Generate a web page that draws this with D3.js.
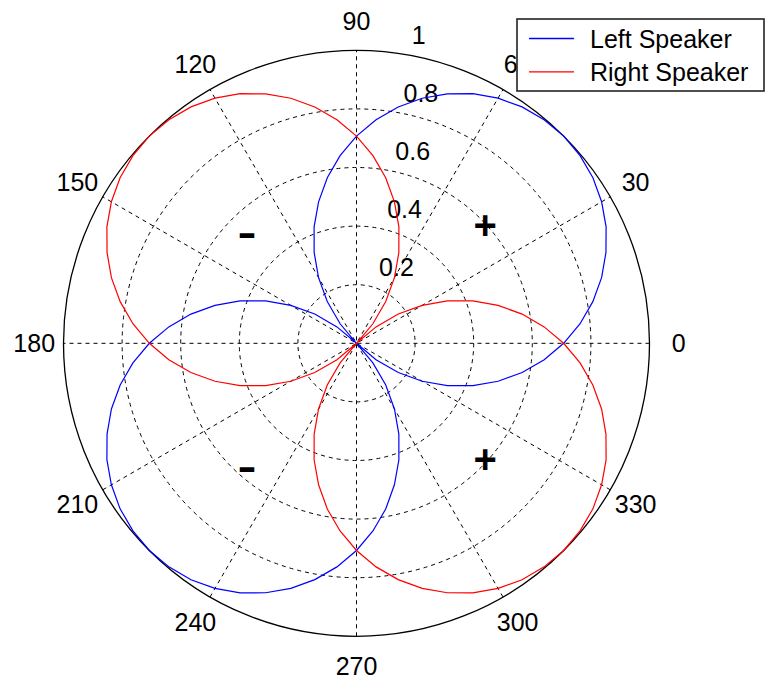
<!DOCTYPE html>
<html>
<head>
<meta charset="utf-8">
<script src="https://cdn.jsdelivr.net/npm/d3@7"></script>
<style>
  html, body { margin: 0; padding: 0; background: #fff; }
  svg { display: block; }
  text { font-family: "Liberation Sans", Arial, sans-serif; fill: #000; }
</style>
</head>
<body>
<svg id="chart" width="766" height="680"></svg>
<script>
// Polar directivity of two speakers, sampled every 5 degrees (0..355)
const angles = d3.range(0, 360, 5);
const leftSpeaker = [
  0.707, 0.766, 0.819, 0.866, 0.906, 0.940, 0.966, 0.985, 0.996, 1.000, 0.996, 0.985,
  0.966, 0.940, 0.906, 0.866, 0.819, 0.766, 0.707, 0.643, 0.574, 0.500, 0.423, 0.342,
  0.259, 0.174, 0.087, 0.000, 0.087, 0.174, 0.259, 0.342, 0.423, 0.500, 0.574, 0.643,
  0.707, 0.766, 0.819, 0.866, 0.906, 0.940, 0.966, 0.985, 0.996, 1.000, 0.996, 0.985,
  0.966, 0.940, 0.906, 0.866, 0.819, 0.766, 0.707, 0.643, 0.574, 0.500, 0.423, 0.342,
  0.259, 0.174, 0.087, 0.000, 0.087, 0.174, 0.259, 0.342, 0.423, 0.500, 0.574, 0.643
];
const rightSpeaker = [
  0.707, 0.643, 0.574, 0.500, 0.423, 0.342, 0.259, 0.174, 0.087, 0.000, 0.087, 0.174,
  0.259, 0.342, 0.423, 0.500, 0.574, 0.643, 0.707, 0.766, 0.819, 0.866, 0.906, 0.940,
  0.966, 0.985, 0.996, 1.000, 0.996, 0.985, 0.966, 0.940, 0.906, 0.866, 0.819, 0.766,
  0.707, 0.643, 0.574, 0.500, 0.423, 0.342, 0.259, 0.174, 0.087, 0.000, 0.087, 0.174,
  0.259, 0.342, 0.423, 0.500, 0.574, 0.643, 0.707, 0.766, 0.819, 0.866, 0.906, 0.940,
  0.966, 0.985, 0.996, 1.000, 0.996, 0.985, 0.966, 0.940, 0.906, 0.866, 0.819, 0.766
];
const seriesNames = ["Left Speaker", "Right Speaker"];
const seriesColors = ["#0000ff", "#ff0000"];
const radialTicks = [0.2, 0.4, 0.6, 0.8, 1];
const spokeAngles = [30, 60, 90, 120, 150, 180];
const angleLabels = [0, 30, 60, 90, 120, 150, 180, 210, 240, 270, 300, 330];
// Polarity markers in data coordinates (x, y)
const signs = [
  { s: "+", x: 0.439, y: 0.401 },
  { s: "-", x: -0.372, y: 0.383 },
  { s: "-", x: -0.372, y: -0.415 },
  { s: "+", x: 0.439, y: -0.398 }
];

const cx = 356.5, cy = 343.3, R = 293;
const svg = d3.select("#chart");
const g = svg.append("g").attr("transform", `translate(${cx},${cy})`);
const r = d3.scaleLinear().domain([0, 1]).range([0, R]);
const rad = d => d * Math.PI / 180;
const px = (a, v) => r(v) * Math.cos(rad(a));
const py = (a, v) => -r(v) * Math.sin(rad(a));

// Plot background
g.append("circle").attr("r", r(1)).attr("fill", "#fff").attr("stroke", "none");

// Dashed grid circles
g.selectAll("circle.grid")
  .data(radialTicks.slice(0, -1))
  .join("circle")
  .attr("class", "grid")
  .attr("r", d => r(d))
  .attr("fill", "none")
  .attr("stroke", "#000")
  .attr("stroke-width", 1)
  .attr("stroke-dasharray", "4,4");

// Dashed spokes through the origin
g.selectAll("line.spoke")
  .data(spokeAngles)
  .join("line")
  .attr("class", "spoke")
  .attr("x1", d => px(d, -1)).attr("y1", d => py(d, -1))
  .attr("x2", d => px(d, 1)).attr("y2", d => py(d, 1))
  .attr("stroke", "#000")
  .attr("stroke-width", 1)
  .attr("stroke-dasharray", "4,4");

// Outer boundary
g.append("circle").attr("r", r(1)).attr("fill", "none")
  .attr("stroke", "#000").attr("stroke-width", 1.3);

// Radial tick labels along 82 degrees
const labA = 82;
g.selectAll("text.rlab")
  .data(radialTicks)
  .join("text")
  .attr("class", "rlab")
  .attr("x", d => px(labA, d + 0.01) + 14)
  .attr("y", d => py(labA, d + 0.01) - 6)
  .attr("font-size", 25)
  .text(d => d3.format("~g")(d));

// Series curves
const line = d3.lineRadial()
  .angle(d => Math.PI / 2 - rad(d[0]))
  .radius(d => r(d[1]))
  .curve(d3.curveLinearClosed);

[leftSpeaker, rightSpeaker].forEach((vals, i) => {
  g.append("path")
    .datum(angles.map((a, k) => [a, vals[k]]))
    .attr("d", line)
    .attr("fill", "none")
    .attr("stroke", seriesColors[i])
    .attr("stroke-width", 1.2);
});

// Angle labels
g.selectAll("text.alab")
  .data(angleLabels)
  .join("text")
  .attr("class", "alab")
  .attr("x", d => px(d, 1.1))
  .attr("y", d => py(d, 1.1) + 9)
  .attr("text-anchor", "middle")
  .attr("font-size", 25)
  .text(d => d);

// Polarity signs
g.selectAll("text.sign")
  .data(signs)
  .join("text")
  .attr("class", "sign")
  .attr("x", d => r(d.x) + (d.s === "-" ? -10 : 0))
  .attr("y", d => -r(d.y) + (d.s === "+" ? 13 : 15))
  .attr("text-anchor", d => d.s === "-" ? "start" : "middle")
  .attr("font-size", 40)
  .attr("font-weight", "bold")
  .each(function (d) {
    if (d.s === "-") d3.select(this).attr("textLength", 19).attr("lengthAdjust", "spacingAndGlyphs");
  })
  .text(d => d.s);

// Legend
const leg = svg.append("g").attr("transform", "translate(517,19)");
leg.append("rect").attr("width", 247).attr("height", 72)
  .attr("fill", "#fff").attr("stroke", "#222").attr("stroke-width", 1.6);
seriesNames.forEach((name, i) => {
  const y = 19.5 + i * 33.4;
  leg.append("line").attr("x1", 12).attr("x2", 57).attr("y1", y).attr("y2", y)
    .attr("stroke", seriesColors[i]).attr("stroke-width", 1.3);
  leg.append("text").attr("x", 73).attr("y", y + 9).attr("font-size", 25).text(name);
});
</script>
</body>
</html>
